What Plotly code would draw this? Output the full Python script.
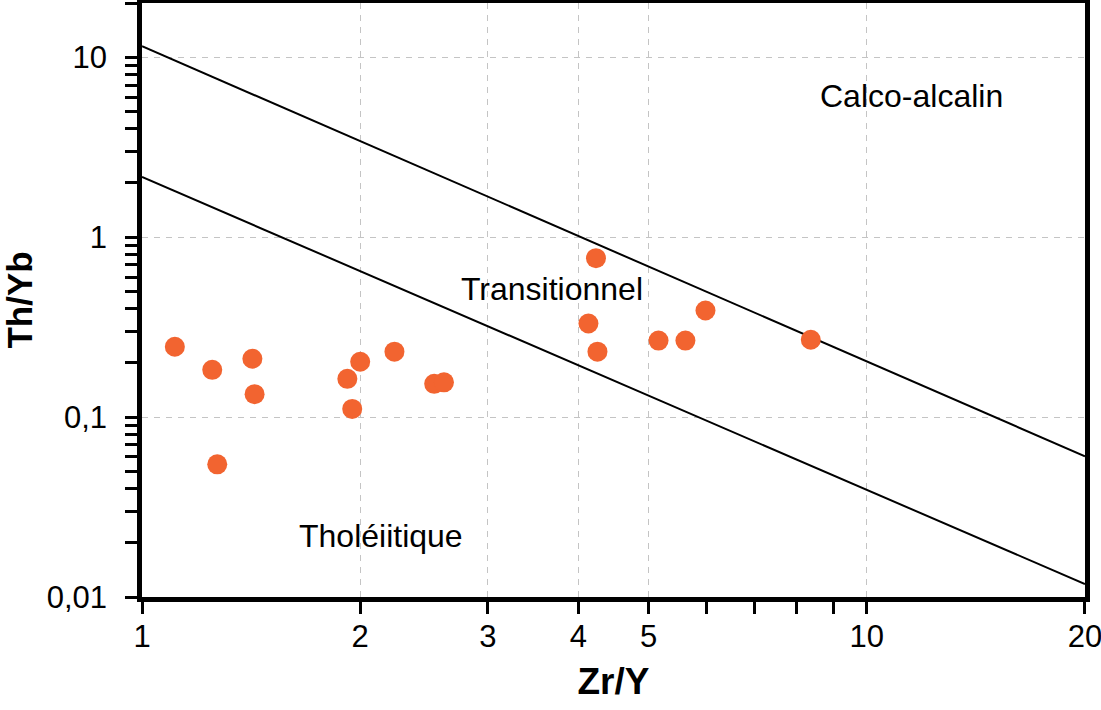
"""Diagramme Th/Yb vs Zr/Y - affinités magmatiques."""

import plotly.graph_objects as go

# Echantillons (Zr/Y, Th/Yb)
zr_y = [1.11, 1.25, 1.27, 1.42, 1.43, 1.92, 1.95, 2.0, 2.23, 2.53, 2.61,
        4.13, 4.23, 4.25, 5.16, 5.62, 5.99, 8.37]
th_yb = [0.246, 0.183, 0.0546, 0.211, 0.134, 0.163, 0.111, 0.203, 0.231,
         0.153, 0.156, 0.331, 0.764, 0.231, 0.266, 0.266, 0.391, 0.269]

# Limites des domaines
bound_x = [1, 20]
upper_y = [11.5, 0.0605]
lower_y = [2.16, 0.0118]

x_ticks = [1, 2, 3, 4, 5, 10, 20]
x_labels = ["1", "2", "3", "4", "5", "10", "20"]
x_minor = [6, 7, 8, 9]
y_ticks = [0.01, 0.1, 1, 10]
y_labels = ["0,01", "0,1", "1", "10"]
y_minor = [0.02, 0.03, 0.04, 0.05, 0.06, 0.07, 0.08, 0.09,
           0.2, 0.3, 0.4, 0.5, 0.6, 0.7, 0.8, 0.9,
           2, 3, 4, 5, 6, 7, 8, 9, 20]

FONT = "Arial, Liberation Sans, sans-serif"
GRID = "#c4c4c4"

fig = go.Figure()

for by in (upper_y, lower_y):
    fig.add_trace(go.Scatter(
        x=bound_x, y=by, mode="lines",
        line={"color": "black", "width": 2},
        showlegend=False, hoverinfo="skip"
    ))

fig.add_trace(go.Scatter(
    x=zr_y, y=th_yb, mode="markers",
    marker={"size": 20, "color": "#F26430", "line": {"width": 0}},
    showlegend=False
))

axis_common = {
    "type": "log",
    "automargin": False,
    "showline": True,
    "mirror": True,
    "linecolor": "black",
    "linewidth": 4.5,
    "ticks": "outside",
    "ticklen": 12,
    "tickwidth": 2.5,
    "tickcolor": "black",
    "showgrid": True,
    "gridcolor": GRID,
    "gridwidth": 1,
    "griddash": "6px,6px",
    "zeroline": False,
    "ticklabeloverflow": "allow",
    "tickfont": {"family": FONT, "size": 31, "color": "black"},
}

minor_common = {"ticks": "outside", "ticklen": 12, "tickwidth": 2.5,
                "tickcolor": "black", "showgrid": False}

fig.update_layout(
    width=1101,
    height=710,
    plot_bgcolor="white",
    paper_bgcolor="white",
    margin={"l": 142, "r": 16, "t": 3, "b": 113},
    xaxis={
        **axis_common,
        "range": [0, 1.30104],
        "tickmode": "array",
        "tickvals": x_ticks,
        "ticktext": x_labels,
        "ticklabelstandoff": -4,
        "minor": {**minor_common, "tickvals": x_minor},
        "title": {"text": "<b>Zr/Y</b>", "standoff": 17,
                  "font": {"family": FONT, "size": 37, "color": "black"}},
    },
    yaxis={
        **axis_common,
        "range": [-2, 1.30104],
        "tickmode": "array",
        "tickvals": y_ticks,
        "ticktext": y_labels,
        "ticklabelstandoff": 12,
        "minor": {**minor_common, "tickvals": y_minor},
        "title": {"text": "<b>Th/Yb</b>", "standoff": 21,
                  "font": {"family": FONT, "size": 35, "color": "black"}},
    },
    annotations=[
        {"text": "Calco-alcalin", "x": 0.932, "y": 0.782, "xref": "x",
         "yref": "y", "xanchor": "left", "yanchor": "middle",
         "showarrow": False},
        {"text": "Transitionnel", "x": 0.437, "y": -0.29, "xref": "x",
         "yref": "y", "xanchor": "left", "yanchor": "middle",
         "showarrow": False},
        {"text": "Tholéiitique", "x": 0.214, "y": -1.659, "xref": "x",
         "yref": "y", "xanchor": "left", "yanchor": "middle",
         "showarrow": False},
    ],
    font={"family": FONT, "size": 32, "color": "black"},
)

conf = {"displayModeBar": False}
fig.write_html("out.html", config=conf,
               post_script="document.body.style.margin = '0';")
